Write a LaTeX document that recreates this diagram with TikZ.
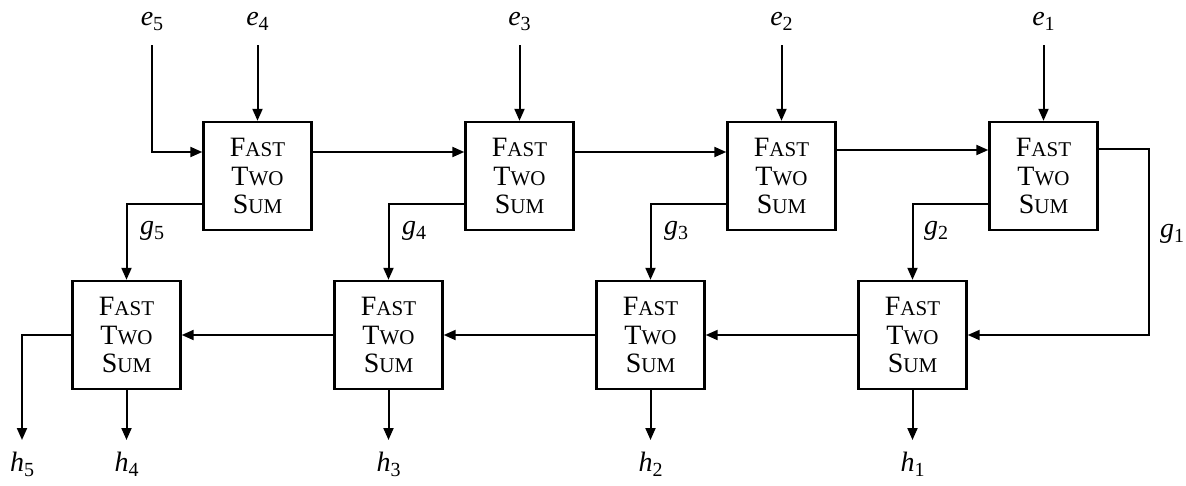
\documentclass[tikz,border=0pt]{standalone}
\usepackage{fontspec}
\setmainfont{Liberation Serif}
\usetikzlibrary{arrows.meta}
\newcommand\smc[2]{#1{\fontsize{21}{28}\selectfont #2}}
\newcommand\mv[2]{\textit{#1}\raisebox{-5pt}{\fontsize{20}{20}\selectfont #2}}
\begin{document}
\begin{tikzpicture}[x=1pt,y=-1pt,
  fts/.style={draw, line width=2.4pt, minimum width=108pt, minimum height=108pt, inner sep=0pt, align=center, font=\fontsize{28}{28.5}\selectfont},
  conn/.style={line width=2pt, -{Triangle[length=12pt,width=10pt]}},
  lbl/.style={font=\fontsize{28}{28}\selectfont, inner sep=0pt}]
\useasboundingbox (0,0) rectangle (1186,485);
\def\fts{\smc{F}{AST}\\\smc{T}{WO}\\\smc{S}{UM}}
% top row
\node[fts] (t1) at (257.5,176) {\fts};
\node[fts] (t2) at (519.5,176) {\fts};
\node[fts] (t3) at (781.5,176) {\fts};
\node[fts] (t4) at (1043.5,176) {\fts};
% bottom row
\node[fts] (b1) at (126.5,335) {\fts};
\node[fts] (b2) at (388.5,335) {\fts};
\node[fts] (b3) at (650.5,335) {\fts};
\node[fts] (b4) at (912.5,335) {\fts};
% input labels
\node[lbl,anchor=base] (e5) at (152,25) {\mv{e}{5}};
\node[lbl,anchor=base] (e4) at (257.5,25) {\mv{e}{4}};
\node[lbl,anchor=base] (e3) at (519.5,25) {\mv{e}{3}};
\node[lbl,anchor=base] (e2) at (781.5,25) {\mv{e}{2}};
\node[lbl,anchor=base] (e1) at (1043.5,25) {\mv{e}{1}};
\coordinate (e5s) at (152,45);
\coordinate (e4s) at (257.5,45);
\coordinate (e3s) at (519.5,45);
\coordinate (e2s) at (781.5,45);
\coordinate (e1s) at (1043.5,45);
% output labels
\node[lbl,anchor=base] (h5) at (22,471) {\mv{h}{5}};
\node[lbl,anchor=base] (h4) at (126.5,471) {\mv{h}{4}};
\node[lbl,anchor=base] (h3) at (388.5,471) {\mv{h}{3}};
\node[lbl,anchor=base] (h2) at (650.5,471) {\mv{h}{2}};
\node[lbl,anchor=base] (h1) at (912.5,471) {\mv{h}{1}};
\coordinate (h5e) at (22,440);
\coordinate (h4e) at (126.5,440);
\coordinate (h3e) at (388.5,440);
\coordinate (h2e) at (650.5,440);
\coordinate (h1e) at (912.5,440);
% g labels
\node[lbl,anchor=base west] (g5) at (140,234) {\mv{g}{5}};
\node[lbl,anchor=base west] (g4) at (402,234) {\mv{g}{4}};
\node[lbl,anchor=base west] (g3) at (664,234) {\mv{g}{3}};
\node[lbl,anchor=base west] (g2) at (924,234) {\mv{g}{2}};
\node[lbl,anchor=base west] (g1) at (1160,237) {\mv{g}{1}};
\coordinate (g1c) at (1149,240);
% inputs
\draw[conn] (e5s) |- ([yshift=24pt]t1.west);
\draw[conn] (e4s) -- (t1.north);
\draw[conn] (e3s) -- (t2.north);
\draw[conn] (e2s) -- (t3.north);
\draw[conn] (e1s) -- (t4.north);
% top chain
\draw[conn] ([yshift=24pt]t1.east) -- ([yshift=24pt]t2.west);
\draw[conn] ([yshift=24pt]t2.east) -- ([yshift=24pt]t3.west);
\draw[conn] ([yshift=26pt]t3.east) -- ([yshift=26pt]t4.west);
% g connections
\draw[conn] ([yshift=-28pt]t1.west) -| (b1.north);
\draw[conn] ([yshift=-28pt]t2.west) -| (b2.north);
\draw[conn] ([yshift=-28pt]t3.west) -| (b3.north);
\draw[conn] ([yshift=-28pt]t4.west) -| (b4.north);
\draw[conn] ([yshift=27pt]t4.east) -| (g1c) |- (b4.east);
% bottom chain
\draw[conn] (b4.west) -- (b3.east);
\draw[conn] (b3.west) -- (b2.east);
\draw[conn] (b2.west) -- (b1.east);
% outputs
\draw[conn] (b1.west) -| (h5e);
\draw[conn] (b1.south) -- (h4e);
\draw[conn] (b2.south) -- (h3e);
\draw[conn] (b3.south) -- (h2e);
\draw[conn] (b4.south) -- (h1e);
\end{tikzpicture}
\end{document}
